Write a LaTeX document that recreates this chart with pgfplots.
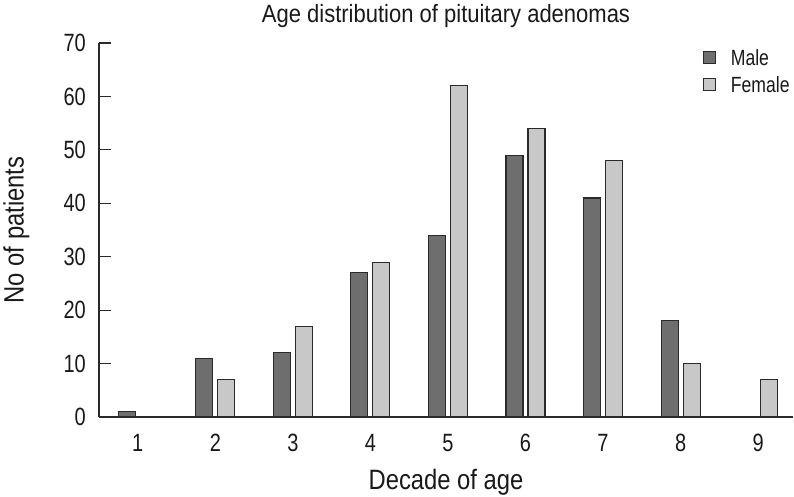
\documentclass[border=0pt]{standalone}
\usepackage{fontspec}
\setmainfont{Liberation Sans}[FakeStretch=0.8]
\newfontfamily\labelfont{Liberation Sans}[FakeStretch=0.85]
\newfontfamily\titlefont{Liberation Sans}[FakeStretch=0.88]
\usepackage{pgfplots}
\pgfplotsset{compat=1.18}

\definecolor{male}{HTML}{6E6E6E}
\definecolor{female}{HTML}{C8C8C8}
\definecolor{edge}{HTML}{2A2A2A}

\begin{document}
\begin{tikzpicture}
% page = 794 x 496, axis box lower left at (99,417) of the image
\path[use as bounding box] (-99pt,-79pt) rectangle (695pt,417pt);
\begin{axis}[
    at={(0pt,0pt)}, anchor=south west,
    scale only axis,
    width=694pt, height=374pt,
    ybar=5pt, bar width=17pt,
    xmin=0.5, xmax=9.45,
    ymin=0, ymax=70,
    xtick={1,...,9},
    ytick={0,10,...,70},
    axis x line=bottom, axis y line=left,
    axis line style={-, draw=edge, line width=1.3pt},
    xtick style={draw=none},
    ytick style={draw=edge, line width=1.2pt},
    ytick align=inside,
    major tick length=12pt,
    /pgf/number format/assume math mode=true,
    tick label style={font=\fontsize{25}{25}\selectfont, text=black!90},
    xticklabel style={anchor=north, inner sep=0pt, yshift=-11pt},
    yticklabel style={anchor=east, inner sep=0pt, xshift=-13pt},
    title={\titlefont Age distribution of pituitary adenomas},
    title style={at={(axis description cs:0.5,1.04)}, anchor=base, inner sep=0pt,
        font=\fontsize{25}{25}\selectfont, text=black!90},
    xlabel={\labelfont Decade of age},
    xlabel style={at={(axis description cs:0.5,-0.1925)}, anchor=base, inner sep=0pt,
        font=\fontsize{28}{28}\selectfont, text=black!90},
    ylabel={\labelfont No of patients},
    ylabel style={at={(axis description cs:-0.138,0.5)}, anchor=north, inner sep=0pt,
        font=\fontsize{28}{28}\selectfont, text=black!90},
    legend image code/.code={\draw[#1] (0pt,-6pt) rectangle (12pt,6pt);},
    legend style={at={(axis description cs:0.870,0.981)}, anchor=north west,
        draw=none, fill=none, inner sep=0pt, outer sep=0pt,
        font=\fontsize{22}{22}\selectfont, text=black!90,
        nodes={inner sep=0pt, text height=15pt, text depth=0pt},
        row sep=12pt,
        /tikz/every odd column/.append style={column sep=15pt}},
    legend cell align=left,
]
\addplot[draw=edge, line width=1.1pt, fill=male]
    coordinates {(1,1) (2,11) (3,12) (4,27) (5,34) (6,49) (7,41) (8,18)};
\addlegendentry{Male}
\addplot[draw=edge, line width=1.1pt, fill=female]
    coordinates {(2,7) (3,17) (4,29) (5,62) (6,54) (7,48) (8,10) (9,7)};
\addlegendentry{Female}
\end{axis}
\end{tikzpicture}
\end{document}
